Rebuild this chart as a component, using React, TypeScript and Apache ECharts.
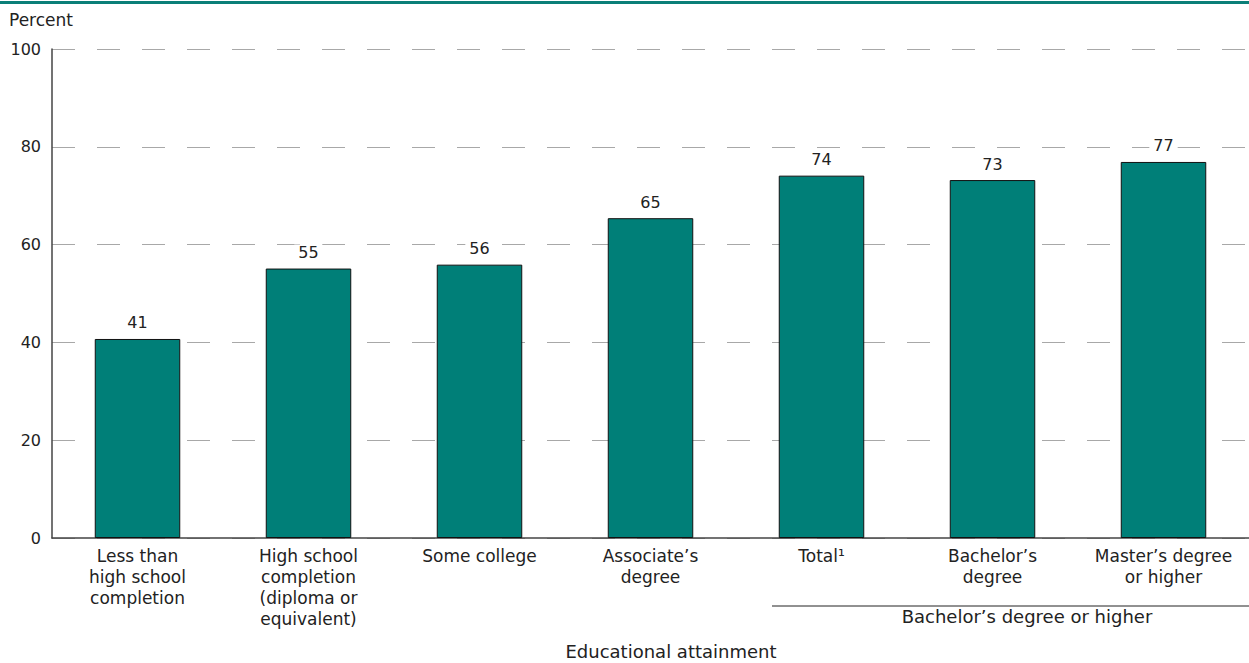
import React, { useEffect, useRef } from "react";
import * as echarts from "echarts";

const categories = [
  "Less than\nhigh school\ncompletion",
  "High school\ncompletion\n(diploma or\nequivalent)",
  "Some college",
  "Associate’s\ndegree",
  "Total¹",
  "Bachelor’s\ndegree",
  "Master’s degree\nor higher",
];
const values = [40.7, 55.1, 55.9, 65.4, 74.1, 73.2, 76.9];
const yTicks = [0, 20, 40, 60, 80, 100];
const groupLabel = "Bachelor’s degree or higher";
const xTitle = "Educational attainment";
const yTitle = "Percent";

const FONT = "'DejaVu Sans', sans-serif";

export default function App() {
  const ref = useRef<HTMLDivElement>(null);
  useEffect(() => {
    if (!ref.current) return;
    const chart = echarts.init(ref.current, null, { renderer: "svg" });
    chart.setOption({
      animation: false,
      textStyle: { fontFamily: FONT },
      grid: { left: 52, right: -7, top: 49, bottom: 125, containLabel: false },
      xAxis: {
        type: "category",
        data: categories,
        axisLine: { show: true, lineStyle: { color: "#444", width: 1.5 } },
        axisTick: { show: false },
        axisLabel: {
          color: "#222",
          fontSize: 17,
          lineHeight: 21,
          margin: 7,
          fontFamily: FONT,
          interval: 0,
        },
      },
      yAxis: {
        type: "value",
        min: 0,
        max: 100,
        interval: 20,
        axisLine: { show: true, lineStyle: { color: "#444", width: 1.5 } },
        axisTick: { show: false },
        axisLabel: {
          color: "#222",
          fontSize: 16,
          margin: 11,
          fontFamily: FONT,
          formatter: (v: number) => (yTicks.includes(v) ? String(v) : ""),
        },
        splitLine: {
          show: true,
          lineStyle: { color: "#a8a8a8", width: 1, type: [23, 22] },
        },
      },
      series: [
        {
          type: "bar",
          data: values,
          barWidth: "50%",
          itemStyle: { color: "#007f78", borderColor: "#111", borderWidth: 1 },
          label: {
            show: true,
            position: "top",
            distance: 8,
            color: "#222",
            fontSize: 16,
            fontFamily: FONT,
            backgroundColor: "#fff",
            padding: [0, 4],
            formatter: (p: any) => String(Math.round(p.value)),
          },
        },
      ],
      graphic: [
        {
          type: "rect",
          left: 0,
          top: 1,
          shape: { width: 1249, height: 3 },
          style: { fill: "#0b7f78" },
        },
        {
          type: "text",
          left: 9,
          top: 11,
          style: { text: yTitle, fill: "#222", fontSize: 17, fontFamily: FONT },
        },
        {
          type: "line",
          shape: { x1: 772, y1: 606, x2: 1249, y2: 606 },
          style: { stroke: "#222", lineWidth: 1 },
        },
        {
          type: "text",
          x: 1027,
          y: 616,
          style: {
            text: groupLabel,
            fill: "#222",
            fontSize: 18,
            fontFamily: FONT,
            align: "center",
            verticalAlign: "middle",
          },
        },
        {
          type: "text",
          x: 671,
          y: 651,
          style: {
            text: xTitle,
            fill: "#222",
            fontSize: 18,
            fontFamily: FONT,
            align: "center",
            verticalAlign: "middle",
          },
        },
      ],
    });
    return () => chart.dispose();
  }, []);
  return (
    <div
      ref={ref}
      style={{ position: "fixed", left: 0, top: 0, width: 1249, height: 663, background: "#fff" }}
    />
  );
}
